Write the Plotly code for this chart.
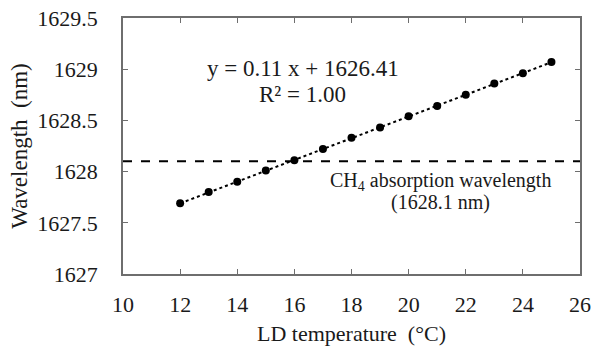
import plotly.graph_objects as go

temps = [12, 13, 14, 15, 16, 17, 18, 19, 20, 21, 22, 23, 24, 25]
wavelengths = [1627.69, 1627.80, 1627.90, 1628.01, 1628.11, 1628.22, 1628.33,
               1628.43, 1628.54, 1628.64, 1628.75, 1628.86, 1628.96, 1629.07]
ch4_wavelength = 1628.1
fit_x = [12, 25]
fit_y = [0.106 * 12 + 1626.418, 0.106 * 25 + 1626.418]
x_ticks = [10, 12, 14, 16, 18, 20, 22, 24, 26]
y_ticks = [1627, 1627.5, 1628, 1628.5, 1629, 1629.5]
y_tick_text = ["1627", "1627.5", "1628", "1628.5", "1629", "1629.5"]

FONT = "Liberation Serif"
TXT = "#1a1a1a"

fig = go.Figure()
fig.add_trace(go.Scatter(x=[10, 26], y=[ch4_wavelength, ch4_wavelength], mode="lines",
                         line=dict(color="black", width=2, dash="dash"), showlegend=False))
fig.add_trace(go.Scatter(x=fit_x, y=fit_y, mode="lines",
                         line=dict(color="black", width=2, dash="dot"), showlegend=False))
fig.add_trace(go.Scatter(x=temps, y=wavelengths, mode="markers",
                         marker=dict(color="black", size=8), showlegend=False))

axis_common = dict(showline=True, linecolor="#6e6e6e", linewidth=1.5, mirror="ticks",
                   ticks="inside", ticklen=5, tickcolor="#6e6e6e", tickwidth=1,
                   showgrid=False, zeroline=False, automargin=False,
                   tickfont=dict(family=FONT, size=22, color=TXT))

fig.update_xaxes(range=[10, 26], tickvals=x_ticks, ticklabelstandoff=10,
                 title=dict(text="LD temperature\u00a0 (°C)",
                            font=dict(family=FONT, size=22, color=TXT), standoff=9),
                 **axis_common)
fig.update_yaxes(range=[1627, 1629.5], tickvals=y_ticks, ticktext=y_tick_text,
                 ticklabelstandoff=19,
                 title=dict(text="Wavelength\u00a0 (nm)",
                            font=dict(family=FONT, size=23, color=TXT), standoff=3),
                 **axis_common)

eq_font = dict(family=FONT, size=23, color=TXT)
lab_font = dict(family=FONT, size=20, color=TXT)
fig.add_annotation(x=16.3, y=1629.01, xref="x", yref="y", text="y = 0.11 x + 1626.41",
                   showarrow=False, font=eq_font)
fig.add_annotation(x=16.3, y=1628.75, xref="x", yref="y", text="R² = 1.00",
                   showarrow=False, font=eq_font)
fig.add_annotation(x=21.1, y=1627.90, xref="x", yref="y",
                   text="CH<sub>4</sub> absorption wavelength", showarrow=False, font=lab_font)
fig.add_annotation(x=21.1, y=1627.70, xref="x", yref="y", text="(1628.1 nm)",
                   showarrow=False, font=lab_font)

fig.update_layout(width=595, height=350, margin=dict(l=123, r=15, t=18, b=76),
                  plot_bgcolor="white", paper_bgcolor="white",
                  font=dict(family=FONT))
fig.write_html("out.html")
